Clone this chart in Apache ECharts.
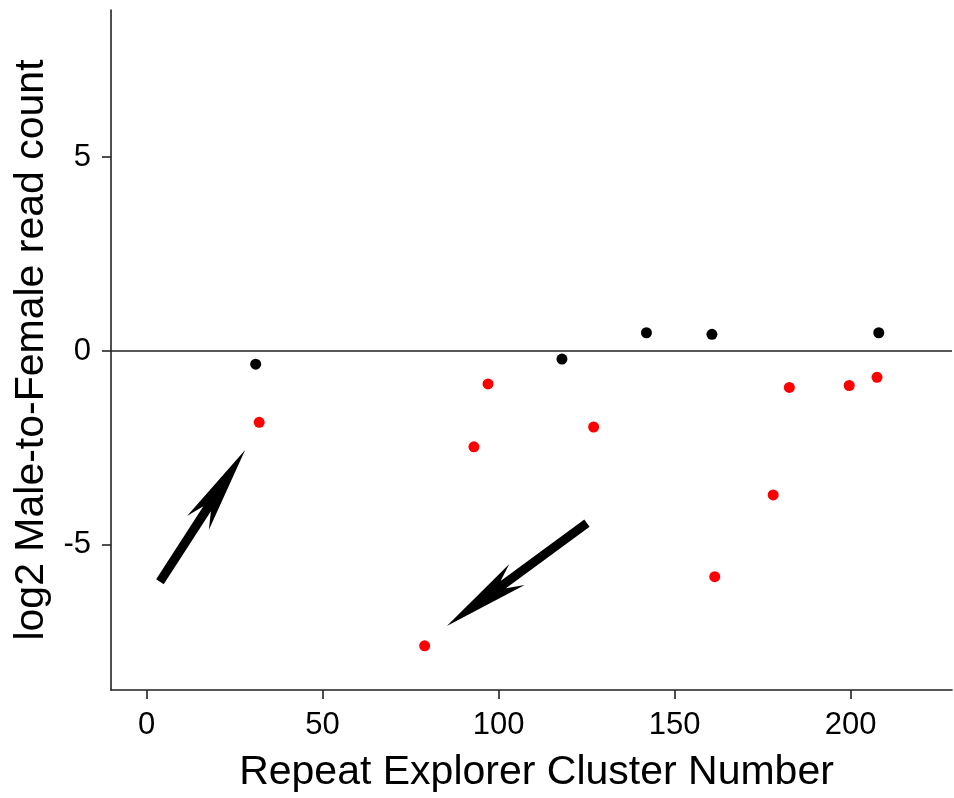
<!DOCTYPE html>
<html>
<head>
<meta charset="utf-8">
<script src="https://cdn.jsdelivr.net/npm/echarts@6/dist/echarts.min.js"></script>
<style>
  html, body { margin: 0; padding: 0; background: #fff; }
  #chart { width: 954px; height: 798px; }
</style>
</head>
<body>
<div id="chart"></div>
<script>
// cluster number, log2 male/female ratio
var blackPoints = [[31, -0.34], [118, -0.21], [142, 0.47], [160.6, 0.43], [208, 0.47]];
var redPoints = [[32, -1.84], [79, -7.60], [93, -2.47], [97, -0.85], [127, -1.96],
    [161.4, -5.82], [178, -3.71], [182.6, -0.94], [199.6, -0.89], [207.5, -0.68]];
var xTicks = [0, 50, 100, 150, 200];
var yTicks = [-5, 0, 5];
// arrows: tail -> tip, in data units
var arrowTails = [[3.8, -5.95], [125.1, -4.44]];
var arrowTips = [[28.0, -2.55], [85.3, -7.09]];

var FONT = 'Liberation Sans, Arial, sans-serif';
var AXIS_COLOR = '#222';

var chart = echarts.init(document.getElementById('chart'));

var arrowData = [];
for (var i = 0; i < arrowTails.length; i++) {
    arrowData.push([arrowTails[i][0], arrowTails[i][1], arrowTips[i][0], arrowTips[i][1]]);
}

// thick arrow with a long narrow barbed head
var renderArrow = function (params, api) {
    var s = api.coord([api.value(0), api.value(1)]);
    var t = api.coord([api.value(2), api.value(3)]);
    var dx = t[0] - s[0], dy = t[1] - s[1];
    var len = Math.sqrt(dx * dx + dy * dy);
    var ux = dx / len, uy = dy / len;
    var nx = -uy, ny = ux;
    var headLen = 87, notch = 70, headHalf = 13, shaft = 4.5;
    var p = function (along, side) {
        return [t[0] - ux * along + nx * side, t[1] - uy * along + ny * side];
    };
    var pts = [
        [t[0], t[1]],
        p(headLen, headHalf),
        p(notch, shaft),
        [s[0] + nx * shaft, s[1] + ny * shaft],
        [s[0] - nx * shaft, s[1] - ny * shaft],
        p(notch, -shaft),
        p(headLen, -headHalf)
    ];
    return {
        type: 'polygon',
        shape: { points: pts },
        style: { fill: '#000' }
    };
};

var option = {
    backgroundColor: '#fff',
    animation: false,
    grid: { left: 111, right: 2, top: 10, bottom: 108 },
    xAxis: {
        type: 'value',
        min: -10.1,
        max: 228.8,
        name: 'Repeat Explorer Cluster Number',
        nameLocation: 'middle',
        nameGap: 62,
        nameTextStyle: { fontFamily: FONT, fontSize: 41, color: '#000', padding: [0, 0, 0, 10] },
        splitLine: { show: false },
        axisLine: { onZero: false, lineStyle: { color: AXIS_COLOR, width: 1.6 } },
        axisTick: { length: 9, customValues: xTicks, lineStyle: { color: AXIS_COLOR, width: 1.6 } },
        axisLabel: { customValues: xTicks, margin: 20, fontFamily: FONT, fontSize: 31, color: '#000' }
    },
    yAxis: {
        type: 'value',
        min: -8.74,
        max: 8.79,
        name: 'log2 Male-to-Female read count',
        nameLocation: 'middle',
        nameGap: 46,
        nameTextStyle: { fontFamily: FONT, fontSize: 41, color: '#000' },
        splitLine: { show: false },
        axisLine: { onZero: false, lineStyle: { color: AXIS_COLOR, width: 1.6 } },
        axisTick: { length: 9, customValues: yTicks, lineStyle: { color: AXIS_COLOR, width: 1.6 } },
        axisLabel: { customValues: yTicks, margin: 20, fontFamily: FONT, fontSize: 31, color: '#000' }
    },
    series: [
        {
            type: 'scatter',
            data: blackPoints,
            symbolSize: 11,
            itemStyle: { color: '#000', opacity: 1 },
            markLine: {
                silent: true,
                symbol: ['none', 'none'],
                label: { show: false },
                lineStyle: { color: AXIS_COLOR, width: 1.6, type: 'solid' },
                data: [{ yAxis: 0 }]
            }
        },
        {
            type: 'scatter',
            data: redPoints,
            symbolSize: 11,
            itemStyle: { color: '#ff0000', opacity: 1 }
        },
        {
            type: 'custom',
            data: arrowData,
            renderItem: renderArrow,
            silent: true
        }
    ]
};

chart.setOption(option);
</script>
</body>
</html>
